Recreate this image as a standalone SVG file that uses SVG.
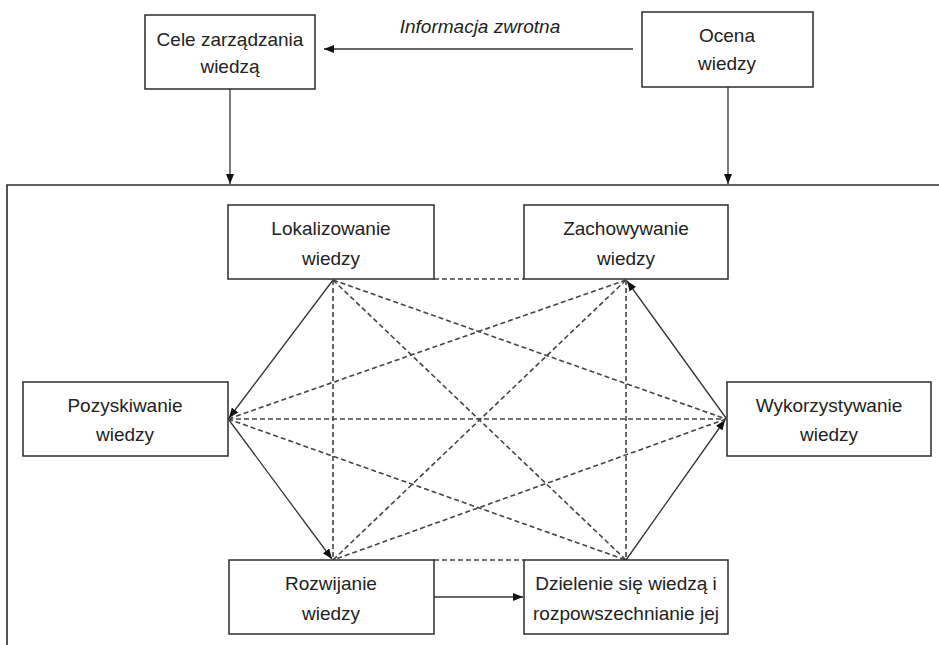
<svg xmlns="http://www.w3.org/2000/svg" width="939" height="645" viewBox="0 0 939 645">
  <style>
    .box { fill: #fff; stroke: #2b2b2b; stroke-width: 1.5; }
    .lbl { font-family: "Liberation Sans", Arial, sans-serif; font-size: 19px; fill: #222; text-anchor: middle; }
    .it { font-style: italic; }
    .solid { stroke: #333; stroke-width: 1.3; fill: none; }
    .arr { marker-end: url(#head); }
    .dash { stroke: #444; stroke-width: 1.6; stroke-dasharray: 5 3; fill: none; }
    .frame { stroke: #2b2b2b; stroke-width: 1.6; fill: none; }
  </style>
  <defs>
    <marker id="head" viewBox="0 0 10 10" refX="10" refY="5" markerWidth="10" markerHeight="10" markerUnits="userSpaceOnUse" orient="auto">
      <path d="M0,1 L10,5 L0,9 z" fill="#111"/>
    </marker>
  </defs>

  <rect width="939" height="645" fill="#fff"/>

  <!-- outer process frame (top and left edges only) -->
  <path class="frame" d="M7,645 L7,185 L939,185"/>

  <g id="connectors">
    <!-- feedback and inputs to the frame -->
    <line class="solid arr" x1="633" y1="49" x2="324" y2="49"/>
    <line class="solid arr" x1="230" y1="89" x2="230" y2="184"/>
    <line class="solid arr" x1="728" y1="87" x2="728" y2="184"/>

    <!-- process cycle -->
    <line class="solid arr" x1="333" y1="280" x2="229" y2="418"/>
    <line class="solid arr" x1="229" y1="420" x2="332" y2="559"/>
    <line class="solid arr" x1="434" y1="597" x2="523" y2="597"/>
    <line class="solid arr" x1="626" y1="560" x2="725" y2="420"/>
    <line class="solid arr" x1="726" y1="418" x2="627" y2="281"/>

    <!-- dashed mutual links -->
    <line class="dash" x1="434" y1="279" x2="524" y2="279"/>
    <line class="dash" x1="434" y1="560" x2="524" y2="560"/>
    <line class="dash" x1="333" y1="280" x2="333" y2="560"/>
    <line class="dash" x1="626" y1="280" x2="626" y2="560"/>
    <line class="dash" x1="228" y1="419" x2="726" y2="419"/>
    <line class="dash" x1="333" y1="280" x2="726" y2="419"/>
    <line class="dash" x1="333" y1="280" x2="626" y2="560"/>
    <line class="dash" x1="626" y1="280" x2="228" y2="419"/>
    <line class="dash" x1="626" y1="280" x2="333" y2="560"/>
    <line class="dash" x1="228" y1="419" x2="626" y2="560"/>
    <line class="dash" x1="726" y1="419" x2="333" y2="560"/>
  </g>

  <g id="cele">
    <rect class="box" x="145" y="15" width="170" height="74"/>
    <text class="lbl" x="230" y="46">Cele zarządzania</text>
    <text class="lbl" x="230" y="73">wiedzą</text>
  </g>

  <g id="ocena">
    <rect class="box" x="642" y="12" width="171" height="75"/>
    <text class="lbl" x="727" y="42">Ocena</text>
    <text class="lbl" x="727" y="70">wiedzy</text>
  </g>

  <g id="feedback-label">
    <text class="lbl it" x="480" y="33">Informacja zwrotna</text>
  </g>

  <g id="lokalizowanie">
    <rect class="box" x="228" y="205" width="206" height="74"/>
    <text class="lbl" x="331" y="235">Lokalizowanie</text>
    <text class="lbl" x="331" y="265">wiedzy</text>
  </g>

  <g id="zachowywanie">
    <rect class="box" x="524" y="205" width="204" height="74"/>
    <text class="lbl" x="626" y="235">Zachowywanie</text>
    <text class="lbl" x="626" y="265">wiedzy</text>
  </g>

  <g id="pozyskiwanie">
    <rect class="box" x="23" y="382" width="205" height="74"/>
    <text class="lbl" x="125" y="412">Pozyskiwanie</text>
    <text class="lbl" x="125" y="441">wiedzy</text>
  </g>

  <g id="wykorzystywanie">
    <rect class="box" x="727" y="382" width="204" height="74"/>
    <text class="lbl" x="829" y="412">Wykorzystywanie</text>
    <text class="lbl" x="829" y="441">wiedzy</text>
  </g>

  <g id="rozwijanie">
    <rect class="box" x="229" y="560" width="205" height="74"/>
    <text class="lbl" x="331" y="590">Rozwijanie</text>
    <text class="lbl" x="331" y="620">wiedzy</text>
  </g>

  <g id="dzielenie">
    <rect class="box" x="524" y="560" width="204" height="74"/>
    <text class="lbl" x="626" y="590">Dzielenie się wiedzą i</text>
    <text class="lbl" x="626" y="620">rozpowszechnianie jej</text>
  </g>
</svg>
